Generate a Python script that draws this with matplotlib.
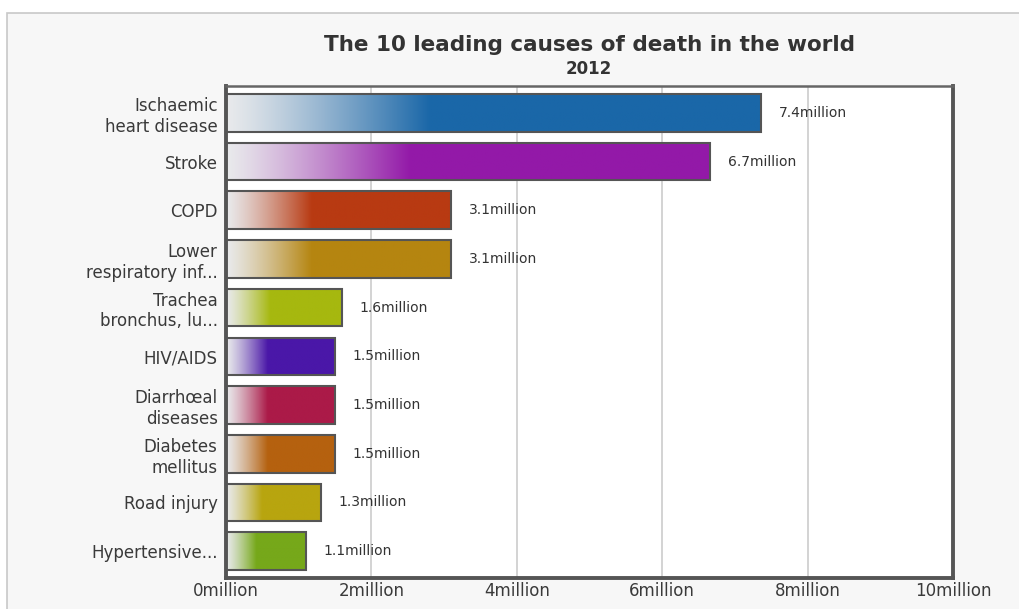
import matplotlib.pyplot as plt
import numpy as np
from matplotlib.colors import to_rgb
from matplotlib.patches import Rectangle

causes = ["Ischaemic\nheart disease", "Stroke", "COPD", "Lower\nrespiratory inf...",
          "Trachea\nbronchus, lu...", "HIV/AIDS", "Diarrhœal\ndiseases",
          "Diabetes\nmellitus", "Road injury", "Hypertensive..."]
deaths = [7.36, 6.66, 3.1, 3.1, 1.6, 1.5, 1.5, 1.5, 1.3, 1.1]
value_labels = ["7.4million", "6.7million", "3.1million", "3.1million", "1.6million",
                "1.5million", "1.5million", "1.5million", "1.3million", "1.1million"]
colors = ["#1a67a8", "#9319a8", "#b83a12", "#b58510", "#a6b80f",
          "#4a17a8", "#ab1a48", "#b5610f", "#b8a50f", "#76a81a"]
xticks = [0, 2, 4, 6, 8, 10]

plt.rcParams['font.family'] = ['DejaVu Sans']

fig = plt.figure(figsize=(10.19, 6.09), dpi=100)
fig.patch.set_facecolor("white")
# light gray panel behind the chart
fig.patches.append(Rectangle((7 / 1019, -0.05), 1.1, 1 - 13 / 609 + 0.05,
                             transform=fig.transFigure, facecolor="#f7f7f7",
                             edgecolor="#c8c8c8", linewidth=1.2, zorder=-10))

ax = fig.add_axes([226 / 1019, 1 - 578 / 609, 727 / 1019, 492 / 609])
ax.set_facecolor("white")

light = np.array(to_rgb("#e9eaec"))
h = 0.77
t = np.linspace(0, 1, 300)
for i, (v, c) in enumerate(zip(deaths, colors)):
    frac = np.clip(t / 0.38, 0, 1)[:, None] ** 1.2
    grad = light * (1 - frac) + np.array(to_rgb(c)) * frac
    ax.imshow(grad[None, :, :], extent=(0, v, i + h / 2, i - h / 2),
              aspect='auto', interpolation='bilinear', zorder=2)
    ax.add_patch(Rectangle((0, i - h / 2), v, h, facecolor="none",
                           edgecolor="#555555", linewidth=1.5, zorder=3))
    ax.text(v + 0.24, i, value_labels[i], va='center', ha='left',
            fontsize=10, color="#333333", zorder=4)

ax.set_xlim(0, 10)
ax.set_ylim(9.55, -0.55)
ax.set_xticks(xticks)
ax.set_xticklabels([f"{x}million" for x in xticks], fontsize=12, color="#3a3a3a")
ax.set_yticks(range(len(causes)))
ax.set_yticklabels(causes, fontsize=12, color="#3a3a3a", linespacing=1.2)
ax.tick_params(axis='y', length=0, pad=6)
ax.tick_params(axis='x', length=0, pad=3)
ax.grid(axis='x', color="#cccccc", linewidth=1.2, zorder=0)
ax.set_axisbelow(True)

for side in ["left", "bottom", "right"]:
    ax.spines[side].set_linewidth(2.8)
    ax.spines[side].set_color("#555555")
ax.spines["top"].set_linewidth(1.8)
ax.spines["top"].set_color("#666666")

fig.text(589 / 1019, 1 - 45 / 609, "The 10 leading causes of death in the world",
         ha='center', va='center', fontsize=15.5, fontweight='bold', color="#333333")
fig.text(589 / 1019, 1 - 69 / 609, "2012", ha='center', va='center',
         fontsize=12, fontweight='bold', color="#333333")

fig.savefig("out.png", dpi=100)
